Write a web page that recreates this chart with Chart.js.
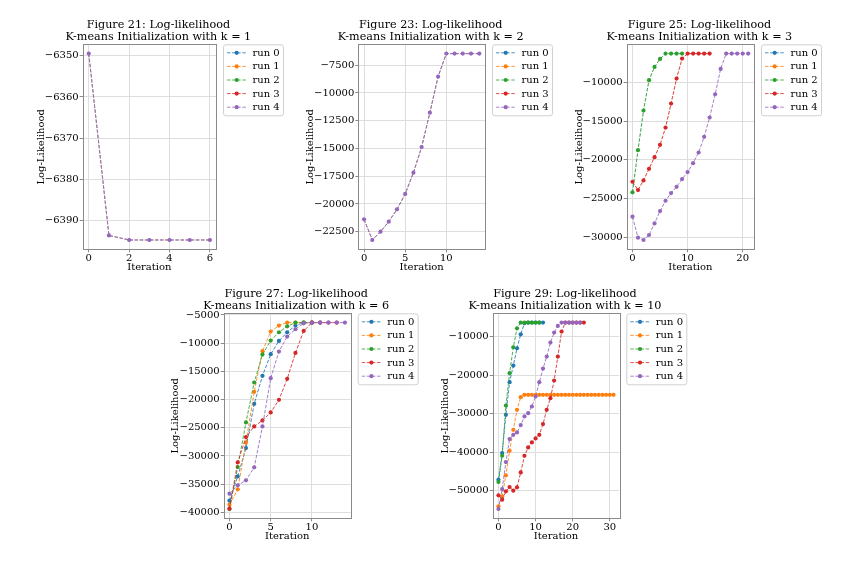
<!DOCTYPE html>
<html><head><meta charset="utf-8">
<script src="https://cdn.jsdelivr.net/npm/chart.js@4.4.0/dist/chart.umd.min.js"></script>
<style>
body{margin:0;background:#fff;width:858px;height:566px;overflow:hidden;position:relative}
canvas{position:absolute;left:0;top:0}
</style></head><body>
<canvas id="c1" width="858" height="566"></canvas>
<canvas id="c2" width="858" height="566"></canvas>
<canvas id="c3" width="858" height="566"></canvas>
<canvas id="c4" width="858" height="566"></canvas>
<canvas id="c5" width="858" height="566"></canvas>
<script>
// ---------- data ----------
const runNames = ['run 0', 'run 1', 'run 2', 'run 3', 'run 4'];
const runColors = ['#1f77b4', '#ff7f0e', '#2ca02c', '#d62728', '#9467bd'];

// k = 1 (all runs identical)
const k1Run = [-6349.5, -6393.6, -6394.7, -6394.7, -6394.7, -6394.7, -6394.7];
const k1XTicks = [0, 2, 4, 6];
const k1YTicks = [-6390, -6380, -6370, -6360, -6350];

// k = 2 (all runs identical)
const k2Run = [-21390, -23250, -22500, -21600, -20490, -19100, -17180, -14870, -11770, -8520, -6450, -6450, -6450, -6450, -6450];
const k2XTicks = [0, 5, 10];
const k2YTicks = [-22500, -20000, -17500, -15000, -12500, -10000, -7500];

// k = 3
const k3Run2 = [-24200, -18760, -13650, -9740, -8030, -7000, -6310, -6310, -6310, -6310];
const k3Run3 = [-22830, -23900, -22660, -21160, -19660, -18070, -15840, -12750, -9530, -6950, -6310, -6310, -6310, -6310, -6310];
const k3Run4 = [-27340, -30040, -30340, -29700, -28200, -26610, -25280, -24290, -23480, -22490, -21590, -20430, -19060, -17040, -14550, -11550, -8280, -6310, -6310, -6310, -6310, -6310];
const k3Run0 = k3Run2.slice();
const k3Run1 = k3Run3.slice();
const k3XTicks = [0, 10, 20];
const k3YTicks = [-30000, -25000, -20000, -15000, -10000];

// k = 6
const k6Run0 = [-37930, -33630, -28610, -20760, -15800, -11960, -9600, -8070, -6890, -6360, -6360, -6360];
const k6Run1 = [-38640, -35930, -27600, -18630, -11430, -7950, -6890, -6360, -6360, -6360, -6360];
const k6Run2 = [-39410, -31970, -24060, -16980, -12020, -9550, -8070, -7010, -6360, -6360, -6360];
const k6Run3 = [-39350, -31150, -26660, -24770, -23710, -22290, -20050, -16330, -11730, -7830, -6360, -6360, -6360, -6360];
const k6Run4 = [-36690, -35220, -34330, -32030, -24770, -16210, -11490, -8840, -7540, -6480, -6360, -6360, -6360, -6360, -6360];
const k6XTicks = [0, 5, 10];
const k6YTicks = [-40000, -35000, -30000, -25000, -20000, -15000, -10000, -5000];

// k = 10
const k10Run0 = [-47150, -40240, -30300, -21840, -17520, -13020, -9400, -6540, -6370, -6370, -6370, -6370, -6370];
const k10Run1 = [-54060, -51470, -46030, -39630, -34190, -29010, -25720,
  -25120, -25120, -25120, -25120, -25120, -25120, -25120, -25120, -25120, -25120, -25120, -25120, -25120,
  -25120, -25120, -25120, -25120, -25120, -25120, -25120, -25120, -25120, -25120, -25120, -25120];
const k10Run2 = [-47750, -40930, -27880, -19500, -12770, -7840, -6370, -6370, -6370, -6370, -6370, -6370];
const k10Run3 = [-51210, -52330, -50170, -49050, -50000, -49130, -45250, -40930, -38770, -37470, -36440, -35490, -32720, -29010, -25980, -21400, -15180, -8700, -6370, -6370, -6370, -6370, -6370, -6370];
const k10Run4 = [-54750, -49570, -42570, -36610, -35490, -34880, -32980, -30730, -29870, -28140, -25550, -21840, -18290, -15180, -11560, -8960, -7240, -6370, -6370, -6370, -6370, -6370, -6370];
const k10XTicks = [0, 10, 20, 30];
const k10YTicks = [-50000, -40000, -30000, -20000, -10000];

// ---------- layout (axes boxes in page pixels) ----------
const panels = [
  { id: 'c1', fig: 21, k: 1, box: { l: 82.7, t: 44.3, r: 216, b: 249.3 }, yLab: 41, xLab: 18,
    runs: [k1Run, k1Run, k1Run, k1Run, k1Run], xTicks: k1XTicks, yTicks: k1YTicks },
  { id: 'c2', fig: 23, k: 2, box: { l: 358.3, t: 44.3, r: 485, b: 249.3 }, yLab: 48.3, xLab: 18,
    runs: [k2Run, k2Run, k2Run, k2Run, k2Run], xTicks: k2XTicks, yTicks: k2YTicks },
  { id: 'c3', fig: 25, k: 3, box: { l: 626.7, t: 44.3, r: 754, b: 249.3 }, yLab: 47.7, xLab: 18,
    runs: [k3Run0, k3Run1, k3Run2, k3Run3, k3Run4], xTicks: k3XTicks, yTicks: k3YTicks },
  { id: 'c4', fig: 27, k: 6, box: { l: 223.7, t: 313.3, r: 350.7, b: 518.3 }, yLab: 48, xLab: 18.4,
    runs: [k6Run0, k6Run1, k6Run2, k6Run3, k6Run4], xTicks: k6XTicks, yTicks: k6YTicks },
  { id: 'c5', fig: 29, k: 10, box: { l: 492.7, t: 313.3, r: 619.3, b: 518.3 }, yLab: 47, xLab: 18.4,
    runs: [k10Run0, k10Run1, k10Run2, k10Run3, k10Run4], xTicks: k10XTicks, yTicks: k10YTicks }
];

const FONT = "'DejaVu Serif', serif";
const SMALL = 10;
const TITLE = 11.2;
const SPINE = '#8a8a8a';
const GRID = '#dedede';

function fmt(v) { return v < 0 ? '\u2212' + Math.abs(v) : String(v); }

function limits(arrays) {
  let lo = Infinity, hi = -Infinity, n = 0;
  arrays.forEach(a => { a.forEach(v => { lo = Math.min(lo, v); hi = Math.max(hi, v); }); n = Math.max(n, a.length); });
  const m = (hi - lo) * 0.05;
  return { yMin: lo - m, yMax: hi + m, xMin: -(n - 1) * 0.05, xMax: (n - 1) * 1.05 };
}
function sameAs(a, b) { return a.length === b.length && a.every((v, i) => v === b[i]); }

const decor = {
  id: 'decor',
  afterDatasetsDraw(chart, args, o) {
    const { ctx, chartArea: a } = chart;
    ctx.save();
    ctx.strokeStyle = SPINE; ctx.lineWidth = 1;
    ctx.strokeRect(Math.round(a.left) + 0.5, Math.round(a.top) + 0.5, Math.round(a.right - a.left), Math.round(a.bottom - a.top));
    ctx.restore();
  },
  afterDraw(chart, args, o) {
    const { ctx, chartArea: a } = chart;
    ctx.save();
    ctx.fillStyle = '#000';
    ctx.font = `${TITLE}px ${FONT}`;
    ctx.textAlign = 'center'; ctx.textBaseline = 'alphabetic';
    const cx = (a.left + a.right) / 2 + 9;
    ctx.fillText(o.title1, cx, a.top - 16);
    ctx.fillText(o.title2, cx, a.top - 4.8);
    const L = a.right + 7, T = a.top, W = 60, H = 71;
    ctx.beginPath();
    ctx.roundRect(L + 0.5, T + 0.5, W, H, 2.5);
    ctx.fillStyle = 'rgba(255,255,255,0.8)'; ctx.fill();
    ctx.strokeStyle = '#d0d0d0'; ctx.lineWidth = 1; ctx.stroke();
    ctx.font = `${SMALL}px ${FONT}`;
    ctx.textAlign = 'left'; ctx.textBaseline = 'middle';
    runNames.forEach((name, i) => {
      const y = T + 8.5 + i * 13.6;
      ctx.strokeStyle = runColors[i];
      ctx.lineWidth = 0.8;
      ctx.setLineDash([3.5, 1.6]);
      ctx.beginPath(); ctx.moveTo(L + 4, y); ctx.lineTo(L + 23.5, y); ctx.stroke();
      ctx.setLineDash([]);
      ctx.fillStyle = runColors[i];
      ctx.beginPath(); ctx.arc(L + 13.7, y, 2.1, 0, Math.PI * 2); ctx.fill();
      ctx.fillStyle = '#000';
      ctx.fillText(name, L + 29.5, y + 0.5);
    });
    ctx.restore();
  }
};

panels.forEach(p => {
  const lim = limits(p.runs);
  const lh = SMALL * 1.2;
  const yW = p.yLab + lh / 2;
  const xH = p.xLab + lh / 2;
  const datasets = p.runs.map((arr, i) => {
    // a run fully hidden beneath an identical later run is drawn thinner
    const covered = p.runs.some((b, j) => j > i && sameAs(arr, b));
    return {
      label: runNames[i],
      data: arr.map((v, j) => ({ x: j, y: v })),
      borderColor: runColors[i],
      backgroundColor: runColors[i],
      pointBackgroundColor: runColors[i],
      pointBorderWidth: 0,
      pointRadius: covered ? 1.2 : 2.1,
      borderWidth: covered ? 0.25 : 0.85,
      borderDash: [3.5, 1.6],
      tension: 0,
      order: 4 - i
    };
  });
  new Chart(document.getElementById(p.id), {
    type: 'line',
    data: { datasets },
    plugins: [decor],
    options: {
      responsive: false,
      animation: false,
      events: [],
      layout: {
        autoPadding: false,
        padding: { left: p.box.l - yW, top: p.box.t, right: 858 - p.box.r, bottom: 566 - p.box.b - xH }
      },
      plugins: {
        legend: { display: false },
        title: { display: false },
        tooltip: { enabled: false },
        decor: { title1: `Figure ${p.fig}: Log-likelihood`, title2: `K-means Initialization with k = ${p.k}` }
      },
      scales: {
        x: {
          type: 'linear', min: lim.xMin, max: lim.xMax,
          afterBuildTicks: s => { s.ticks = p.xTicks.map(v => ({ value: v })); },
          afterFit: s => { s.height = xH; s.paddingLeft = 0; s.paddingRight = 0; },
          ticks: { font: { family: FONT, size: SMALL }, color: '#000', padding: 0, maxRotation: 0, autoSkip: false, callback: v => fmt(v) },
          grid: { color: GRID, tickColor: SPINE, tickLength: 3, lineWidth: 1 },
          border: { display: false },
          title: { display: true, text: 'Iteration', font: { family: FONT, size: SMALL }, color: '#000', padding: 0 }
        },
        y: {
          type: 'linear', min: lim.yMin, max: lim.yMax,
          afterBuildTicks: s => { s.ticks = p.yTicks.map(v => ({ value: v })); },
          afterFit: s => { s.width = yW; s.paddingTop = 0; s.paddingBottom = 0; },
          ticks: { font: { family: FONT, size: SMALL }, color: '#000', padding: 1, autoSkip: false, callback: v => fmt(v) },
          grid: { color: GRID, tickColor: SPINE, tickLength: 3, lineWidth: 1 },
          border: { display: false },
          title: { display: true, text: 'Log-Likelihood', font: { family: FONT, size: SMALL }, color: '#000', padding: 0 }
        }
      }
    }
  });
});
</script>
</body></html>
